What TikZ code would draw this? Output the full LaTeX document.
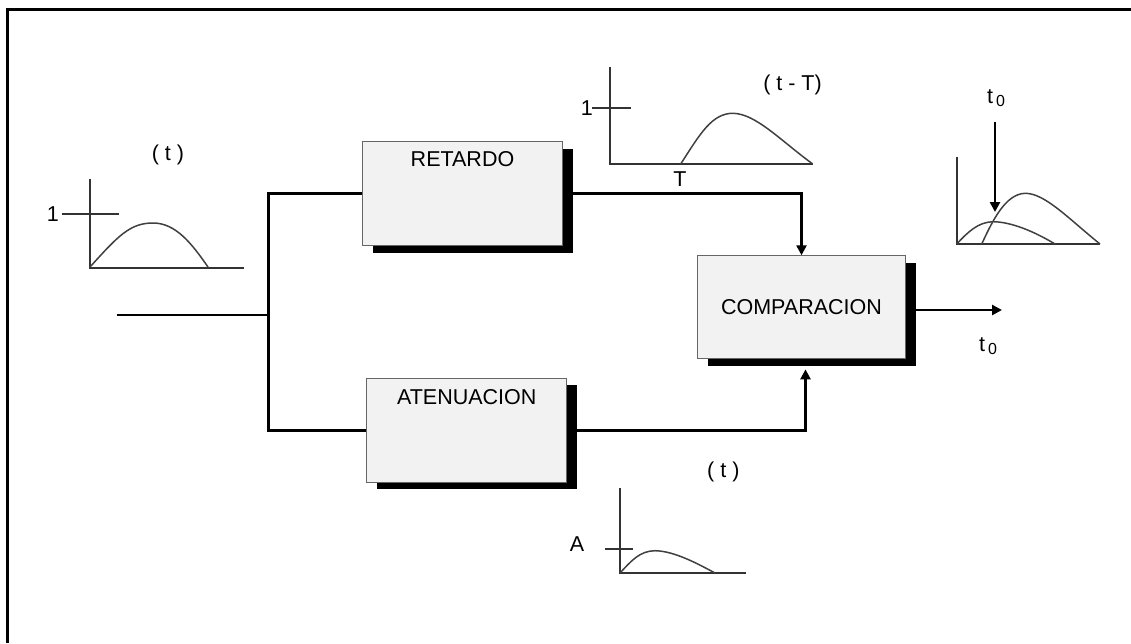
\documentclass[tikz,border=0pt]{standalone}
\usepackage{fontspec}
\setmainfont{Liberation Sans}
\usetikzlibrary{arrows.meta,shadows}
\begin{document}
\begin{tikzpicture}[x=1pt,y=-1pt,
  blockbox/.style={draw=black!60,line width=1.1pt,fill=black!5,
    drop shadow={shadow xshift=10pt,shadow yshift=-7pt,fill=black,opacity=1}},
  txt/.style={font=\fontsize{21.5}{25}\selectfont,inner sep=0pt},
  wire/.style={line width=2.8pt,black},
  tip/.style={-{Triangle[length=10pt,width=10pt]}},
  axis/.style={line width=2.3pt,black!80},
  curve/.style={line width=1.5pt,black!75},
  frame/.style={line width=3pt,black}]
\useasboundingbox (0,0) rectangle (1131,643);
\newcommand{\tsub}{t\hspace{3pt}\raisebox{-3pt}{\fontsize{16}{16}\selectfont 0}}

% page rule
\draw[frame] (7,643) -- (7,9) -- (1131,9);

% blocks
\node[blockbox,minimum width=200pt,minimum height=104pt] (ret) at (462.5,193.7) {};
\node[blockbox,minimum width=200pt,minimum height=104pt] (att) at (466.7,430.3) {};
\node[blockbox,minimum width=208pt,minimum height=103pt] (cmp) at (801.5,307.3) {};
\node[txt] (retlbl) at ([yshift=-18pt]ret.north) {RETARDO};
\node[txt] (attlbl) at ([yshift=-19pt]att.north) {ATENUACION};
\node[txt] (cmplbl) at (cmp.center) {COMPARACION};

% signal path
\coordinate (in) at (116.7,315);
\coordinate (branch) at (268.3,315);
\coordinate (out) at (1002,310);
\draw[wire] (in) -- (branch);
\draw[wire] (ret.west) -| (branch) |- (att.west);
\draw[wire,tip] (ret.east) -| (cmp.north);
\draw[wire,tip] (att.east) -| ([xshift=4pt,yshift=-10pt]cmp.south);
\draw[wire,tip] (cmp.east |- out) -- (out);
\node[txt] (tout) at (988,346) {\tsub};

% input pulse
\draw[axis] (90,179) -- (90,267.7) -- (244.3,267.7);
\draw[axis] (62.3,214.3) -- (119,214.3);
\node[txt,anchor=east] (one1) at (59,214.3) {1};
\draw[curve] (90,267) .. controls (118,236) and (130,223) .. (153,223)
  .. controls (176,223) and (192,244) .. (208,267);
\node[txt] (sig1) at (168,155) {( t )};

% delayed pulse
\draw[axis] (610,67.3) -- (610,164) -- (812.7,164);
\draw[axis] (592.3,108.3) -- (631,108.3);
\node[txt,anchor=east] (one2) at (593,108.3) {1};
\draw[curve] (680.7,164) .. controls (700,134) and (712,113) .. (733.3,113.3)
  .. controls (756,114) and (780,140) .. (812.7,164);
\node[txt] (tT) at (680,179) {T};
\node[txt] (sig2) at (792.5,85) {( t - T)};

% attenuated pulse
\draw[axis] (620,488.3) -- (620,573.3) -- (746,573.3);
\draw[axis] (605,549.3) -- (632.7,549.3);
\node[txt] (ampA) at (577,544) {A};
\draw[curve] (620,573) .. controls (632,560) and (640,551) .. (655,550.7)
  .. controls (675,551) and (700,565) .. (715,573);
\node[txt] (sig3) at (723.3,471.7) {( t )};

% both pulses overlaid
\draw[axis] (956.7,156.7) -- (956.7,244.3) -- (1100,244.3);
\draw[curve] (956.7,244) .. controls (968,232) and (978,222) .. (993.3,221.7)
  .. controls (1012,222) and (1035,232) .. (1055,244);
\draw[curve] (981.7,244) .. controls (992,222) and (1005,194) .. (1025,193.3)
  .. controls (1045,193) and (1070,220) .. (1100,244);
\coordinate (mk) at (995,121.7);
\draw[wire,line width=2.5pt,tip] (mk) -- (995,212);
\node[txt] (tmk) at (996,98.3) {\tsub};
\end{tikzpicture}
\end{document}
